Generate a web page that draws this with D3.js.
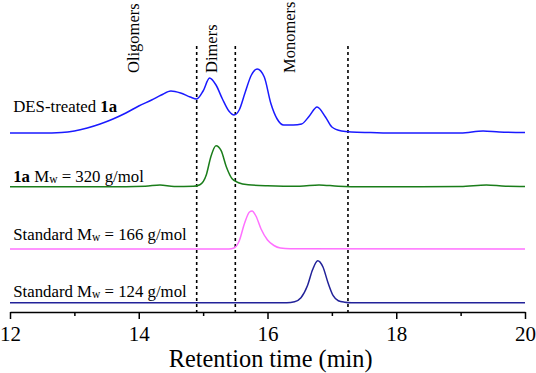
<!DOCTYPE html>
<html>
<head>
<meta charset="utf-8">
<script src="https://cdn.jsdelivr.net/npm/d3@7"></script>
<style>
  body { margin: 0; background: #fff; }
  text { font-family: "Liberation Serif", "Times New Roman", serif; fill: #000; }
</style>
</head>
<body>
<div id="wrapper"></div>
<script>
// retention times (min) and signal heights for each trace
const desTime   = [12.0, 12.5, 12.8, 13.0, 13.2, 13.4, 13.6, 13.8, 14.0, 14.2, 14.35, 14.5, 14.65, 14.8, 14.9, 15.0, 15.1, 15.2, 15.3, 15.4, 15.48, 15.56, 15.65, 15.75, 15.84, 15.95, 16.05, 16.15, 16.25, 16.4, 16.53, 16.65, 16.77, 16.9, 17.0, 17.15, 17.3, 17.6, 18.0, 19.0, 19.35, 19.6, 20.0];
const desSignal = [0, 0, 0.5, 2, 5, 9, 14, 20, 27, 33, 38, 42, 40, 36, 34, 42, 55, 48, 34, 22, 18, 23, 40, 58, 64, 56, 30, 14, 8, 8, 9, 17, 26, 16, 6, 2, 1, 0.5, 0, 0, 2, 1, 0.5];

const oneATime   = [12.0, 13.5, 14.1, 14.33, 14.55, 14.85, 14.95, 15.05, 15.12, 15.2, 15.28, 15.36, 15.45, 15.55, 15.7, 16.0, 16.5, 16.8, 17.1, 17.5, 19.0, 19.4, 19.7, 20.0];
const oneASignal = [0, 0, 0.5, 1.8, 0.3, 0.5, 2, 12, 30, 41, 36, 20, 8, 4, 2, 1, 0.5, 1.8, 0.5, 0, 0.2, 1.8, 0.5, 0.3];

const std166Time   = [12.0, 15.4, 15.48, 15.56, 15.64, 15.72, 15.76, 15.82, 15.9, 16.0, 16.1, 16.2, 16.35, 20.0];
const std166Signal = [0, 0, 1, 8, 25, 37, 38, 33, 20, 9, 3.5, 1, 0.2, 0];

const std124Time   = [12.0, 16.3, 16.42, 16.52, 16.62, 16.7, 16.78, 16.86, 16.94, 17.02, 17.1, 17.2, 17.3, 20.0];
const std124Signal = [0, 0, 1, 5, 17, 33, 42, 36, 20, 7, 2, 0.5, 0, 0];

const traceOffsets = [179, 125.3, 63, 9.3];
const traceColors  = ["#1a1aff", "#1a7d1a", "#ff70ff", "#222299"];
const labelLevels  = [200.3, 130.5, 72, 15.3];

const regionBounds = [14.9, 15.5, 17.25];
const regionNames  = ["Oligomers", "Dimers", "Monomers"];
const regionLabelX = [14.0, 15.22, 16.42];

const majorTicks = [12, 14, 16, 18, 20];
const minorTicks = [13, 15, 17, 19];

const traces = [
  { time: desTime, signal: desSignal },
  { time: oneATime, signal: oneASignal },
  { time: std166Time, signal: std166Signal },
  { time: std124Time, signal: std124Signal },
];

const dimensions = { width: 536, height: 373 };

const svg = d3.select("#wrapper").append("svg")
  .attr("width", dimensions.width)
  .attr("height", dimensions.height);

const xScale = d3.scaleLinear().domain([12, 20]).range([10, 525]);
const yScale = d3.scaleLinear().domain([0, 300]).range([312, 12]);

// dashed region separators
svg.selectAll("line.sep")
  .data(regionBounds)
  .enter().append("line")
  .attr("class", "sep")
  .attr("x1", d => xScale(d)).attr("x2", d => xScale(d))
  .attr("y1", yScale(266)).attr("y2", yScale(-1))
  .attr("stroke", "#000")
  .attr("stroke-width", 1.6)
  .attr("stroke-dasharray", "3,3");

// traces
const line = d3.line().curve(d3.curveMonotoneX);
traces.forEach((tr, k) => {
  const pts = tr.time.map((t, i) => [xScale(t), yScale(traceOffsets[k] + tr.signal[i])]);
  svg.append("path")
    .attr("d", line(pts))
    .attr("fill", "none")
    .attr("stroke", traceColors[k])
    .attr("stroke-width", 1.5);
});

// region labels, rotated
svg.selectAll("text.region")
  .data(regionNames)
  .enter().append("text")
  .attr("class", "region")
  .attr("transform", (d, i) => `translate(${xScale(regionLabelX[i])},${yScale(239)}) rotate(-90)`)
  .style("font-size", "16.5px")
  .text(d => d);

// trace labels
const labelX = xScale(12.05);
const labelSize = "16.8px", subSize = "11.5px";
const l0 = svg.append("text").attr("x", labelX).attr("y", yScale(labelLevels[0])).style("font-size", labelSize);
l0.append("tspan").text("DES-treated ");
l0.append("tspan").style("font-weight", "bold").text("1a");

const l1 = svg.append("text").attr("x", labelX).attr("y", yScale(labelLevels[1])).style("font-size", labelSize);
l1.append("tspan").style("font-weight", "bold").text("1a");
l1.append("tspan").text(" M");
l1.append("tspan").style("font-size", subSize).attr("dy", 1).text("w");
l1.append("tspan").attr("dy", -1).text(" = 320 g/mol");

[["166", 2], ["124", 3]].forEach(([mw, k]) => {
  const t = svg.append("text").attr("x", labelX).attr("y", yScale(labelLevels[k])).style("font-size", labelSize);
  t.append("tspan").text("Standard M");
  t.append("tspan").style("font-size", subSize).attr("dy", 1).text("w");
  t.append("tspan").attr("dy", -1).text(` = ${mw} g/mol`);
});

// x axis
const xAxis = svg.append("g")
  .attr("transform", `translate(0,${yScale(0)})`)
  .call(d3.axisBottom(xScale).tickValues(majorTicks).tickSize(7).tickSizeOuter(0).tickPadding(7));
xAxis.select(".domain").attr("stroke-width", 1.5);
xAxis.selectAll(".tick line").attr("stroke-width", 1.5);
xAxis.selectAll(".tick text")
  .style("font-family", "Liberation Serif, serif")
  .style("font-size", "21px");

const minorAxis = svg.append("g")
  .attr("transform", `translate(0,${yScale(0)})`)
  .call(d3.axisBottom(xScale).tickValues(minorTicks).tickSize(4).tickSizeOuter(0).tickFormat(""));
minorAxis.select(".domain").remove();
minorAxis.selectAll(".tick line").attr("stroke-width", 1.5);

svg.append("text")
  .attr("x", xScale(16.05))
  .attr("y", 367)
  .attr("text-anchor", "middle")
  .style("font-size", "24.3px")
  .text("Retention time (min)");
</script>
</body>
</html>
